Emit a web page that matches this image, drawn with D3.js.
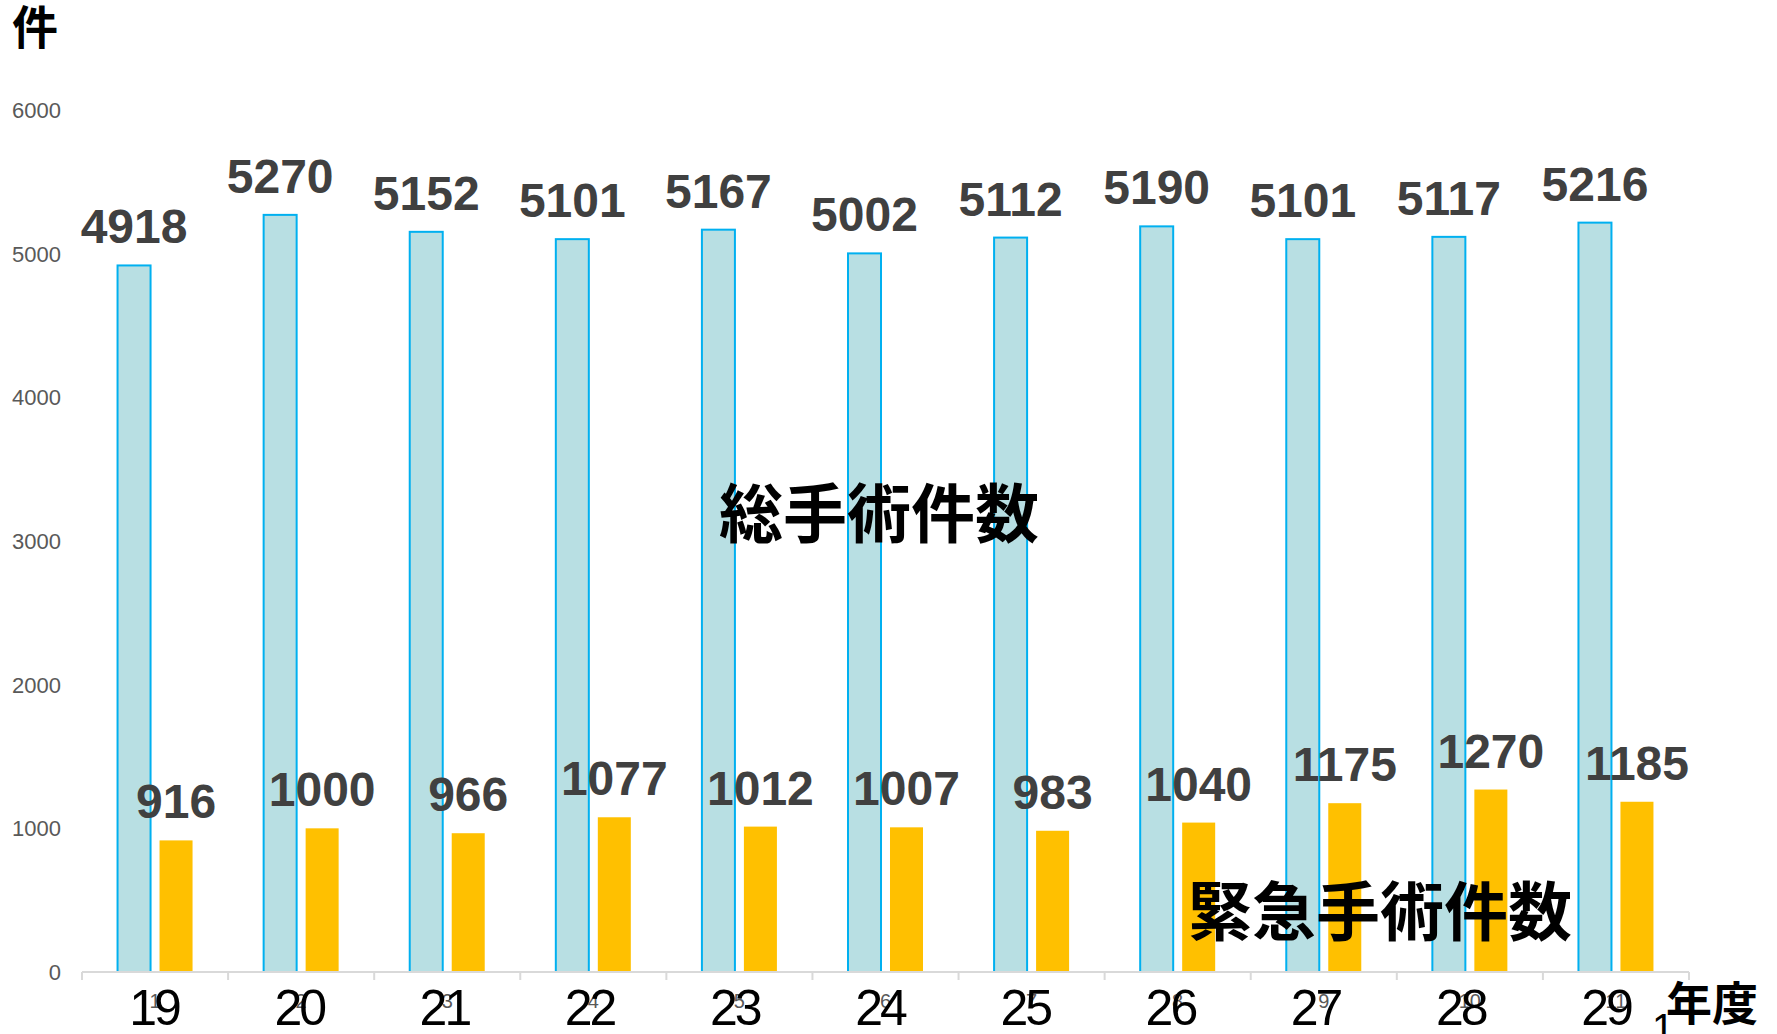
<!DOCTYPE html>
<html>
<head>
<meta charset="utf-8">
<script src="https://cdn.jsdelivr.net/npm/d3@7"></script>
<style>
  html,body{margin:0;padding:0;background:#fff;}
  svg{display:block;}
  .num{font-family:"Liberation Sans",Arial,sans-serif;}
  .jp{font-family:"Noto Sans CJK JP",sans-serif;font-weight:700;}
</style>
</head>
<body>
<svg id="chart" width="1777" height="1034"></svg>
<script>
// data
const categories = ["1","2","3","4","5","6","7","8","9","10","11"];
const yearLabels = ["19","20","21","22","23","24","25","26","27","28","29"];
const totalOps = [4918,5270,5152,5101,5167,5002,5112,5190,5101,5117,5216];
const emergencyOps = [916,1000,966,1077,1012,1007,983,1040,1175,1270,1185];
const yTicks = [0,1000,2000,3000,4000,5000,6000];

const svg = d3.select("#chart");
const plotL = 82, plotR = 1689, plotT = 110, plotB = 972;

const x = d3.scaleBand().domain(categories).range([plotL,plotR]).padding(0);
const bw = x.bandwidth();
const xSub = d3.scaleBand().domain(["total","emergency"])
  .range([bw/2-37.5, bw/2+37.5]).paddingInner(0.214).paddingOuter(0);
const y = d3.scaleLinear().domain([0,6000]).range([plotB,plotT]);

const rows = categories.map((c,i)=>({cat:c, year:yearLabels[i], total:totalOps[i], emer:emergencyOps[i]}));

// y tick labels (no axis line)
svg.append("g").selectAll("text")
  .data(yTicks).enter().append("text")
  .attr("class","num")
  .attr("x", 61)
  .attr("y", d=>y(d))
  .attr("dy","0.36em")
  .attr("text-anchor","end")
  .attr("font-size",22)
  .attr("fill","#595959")
  .text(d=>d);

// bars
const g = svg.append("g");
g.selectAll("rect.total").data(rows).enter().append("rect")
  .attr("class","total")
  .attr("x", d=>x(d.cat)+xSub("total"))
  .attr("y", d=>y(d.total))
  .attr("width", xSub.bandwidth())
  .attr("height", d=>plotB-y(d.total))
  .attr("fill","#B8DFE3")
  .attr("stroke","#00B0F0")
  .attr("stroke-width",2);

g.selectAll("rect.emer").data(rows).enter().append("rect")
  .attr("class","emer")
  .attr("x", d=>x(d.cat)+xSub("emergency"))
  .attr("y", d=>y(d.emer))
  .attr("width", xSub.bandwidth())
  .attr("height", d=>plotB-y(d.emer))
  .attr("fill","#FFC000");

// x axis
const xAxis = svg.append("g");
xAxis.append("line")
  .attr("x1",plotL).attr("x2",plotR).attr("y1",plotB).attr("y2",plotB)
  .attr("stroke","#D9D9D9").attr("stroke-width",2);
xAxis.selectAll("line.tick")
  .data(categories.concat(["end"])).enter().append("line")
  .attr("class","tick")
  .attr("x1",(d,i)=>plotL+i*bw).attr("x2",(d,i)=>plotL+i*bw)
  .attr("y1",plotB).attr("y2",plotB+8)
  .attr("stroke","#D9D9D9").attr("stroke-width",2);

// big year labels (separate overlay, slightly tighter spacing)
const xYear = d3.scalePoint().domain(yearLabels).range([154,1606]);
svg.append("g").selectAll("text")
  .data(yearLabels).enter().append("text")
  .attr("class","num")
  .attr("x", d=>xYear(d))
  .attr("y", 1025)
  .attr("text-anchor","middle")
  .attr("font-size",50)
  .attr("letter-spacing","-3")
  .attr("fill","#000")
  .text(d=>d);

// small category labels
xAxis.selectAll("text.cat").data(categories).enter().append("text")
  .attr("class","num cat")
  .attr("x", d=>x(d)+bw/2)
  .attr("y", 1008)
  .attr("text-anchor","middle")
  .attr("font-size",20)
  .attr("fill","#595959")
  .text(d=>d);

// value labels
g.selectAll("text.tl").data(rows).enter().append("text")
  .attr("class","num tl")
  .attr("x", d=>x(d.cat)+xSub("total")+xSub.bandwidth()/2)
  .attr("y", d=>y(d.total)-22)
  .attr("text-anchor","middle")
  .attr("font-size",48)
  .attr("font-weight","bold")
  .attr("fill","#404040")
  .text(d=>d.total);

g.selectAll("text.el").data(rows).enter().append("text")
  .attr("class","num el")
  .attr("x", d=>x(d.cat)+xSub("emergency")+xSub.bandwidth()/2)
  .attr("y", d=>y(d.emer)-22)
  .attr("text-anchor","middle")
  .attr("font-size",48)
  .attr("font-weight","bold")
  .attr("fill","#404040")
  .text(d=>d.emer);

// annotations
svg.append("text").attr("class","num")
  .attr("x",1652).attr("y",1042).attr("font-size",40).attr("fill","#000").text("1");
svg.append("text").attr("class","jp")
  .attr("x",12).attr("y",44).attr("font-size",46).attr("fill","#000").text("件");
svg.append("text").attr("class","jp")
  .attr("x",1666).attr("y",1020).attr("font-size",46).attr("fill","#000").text("年度");
svg.append("text").attr("class","jp")
  .attr("x",719).attr("y",537).attr("font-size",64).attr("fill","#000").text("総手術件数");
svg.append("text").attr("class","jp")
  .attr("x",1188).attr("y",935).attr("font-size",64).attr("fill","#000").text("緊急手術件数");
</script>
</body>
</html>
